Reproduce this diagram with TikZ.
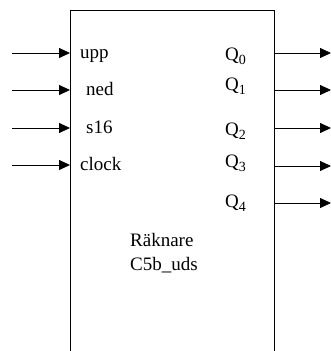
\documentclass[tikz,border=0pt]{standalone}
\usepackage{fontspec}
\setmainfont{LiberationSerif}[Extension=.ttf,UprightFont=*-Regular,BoldFont=*-Bold]
\usetikzlibrary{arrows.meta}
\newcommand{\qsub}[1]{\raisebox{-4pt}{\fontsize{14}{16}\selectfont #1}}
\tikzset{
  ar/.style ={-{Triangle[length=11pt,width=10pt]},line width=0.8pt},
  box/.style={line width=0.8pt},
  lbl/.style={inner sep=0pt,anchor=base west,font=\rmfamily\fontsize{19}{23}\selectfont},
}
\begin{document}
\begin{tikzpicture}[x=1pt,y=-1pt]
  \useasboundingbox (0,0) rectangle (331,351);
  % counter block, open at the bottom
  \coordinate (bl) at (70,352); \coordinate (tl) at (70,10);
  \coordinate (tr) at (274,10); \coordinate (br) at (274,352);
  \draw[box] (bl) -- (tl) -- (tr) -- (br);
  % inputs
  \foreach \y/\n/\dx in {53/upp/10, 90/ned/16, 128/s16/16, 165/clock/10}{
    \coordinate (src-\n) at (12,\y);
    \coordinate (pin-\n) at (70,\y);
    \draw[ar] (src-\n) -- (pin-\n);
    \node[lbl] (lab-\n) at (70+\dx,\y+5) {\n};
  }
  % outputs
  \foreach \i/\y/\b in {0/53/60, 1/90/90, 2/128/135, 3/166/167, 4/203/207}{
    \coordinate (pout-\i) at (274,\y);
    \coordinate (dst-\i) at (331,\y);
    \draw[ar] (pout-\i) -- (dst-\i);
    \node[lbl] (lab-q\i) at (225,\b) {Q\qsub{\i}};
  }
  \node[lbl] (name) at (130,246) {Räknare};
  \node[lbl] (type) at (130,270) {C5b\_uds};
\end{tikzpicture}
\end{document}
